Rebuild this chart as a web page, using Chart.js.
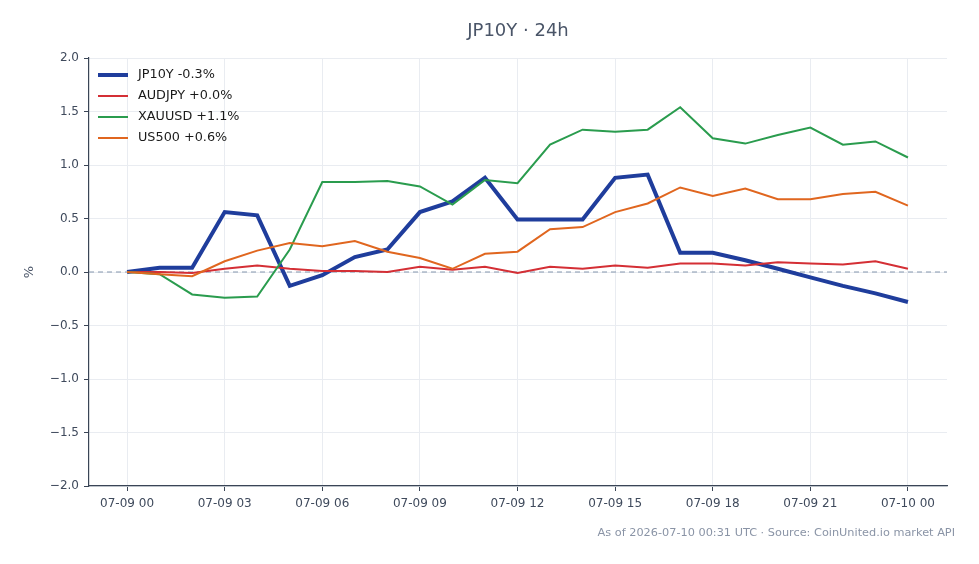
<!DOCTYPE html>
<html>
<head>
<meta charset="utf-8">
<script src="https://cdn.jsdelivr.net/npm/chart.js@4.4.1/dist/chart.umd.min.js"></script>
<style>
  html, body { margin: 0; padding: 0; background: #fff; }
  #wrap { width: 979px; height: 564px; }
</style>
</head>
<body>
<div id="wrap"><canvas id="chart" width="979" height="564"></canvas></div>
<script>
// hourly points, 07-09 00 .. 07-10 00
var timeLabels = ["07-09 00","07-09 01","07-09 02","07-09 03","07-09 04","07-09 05","07-09 06","07-09 07",
  "07-09 08","07-09 09","07-09 10","07-09 11","07-09 12","07-09 13","07-09 14","07-09 15","07-09 16",
  "07-09 17","07-09 18","07-09 19","07-09 20","07-09 21","07-09 22","07-09 23","07-10 00"];

var jp10y  = [0, 0.04, 0.04, 0.56, 0.53, -0.13, -0.03, 0.14, 0.21, 0.56, 0.66, 0.88, 0.49, 0.49, 0.49, 0.88, 0.91, 0.18, 0.18, 0.11, 0.03, -0.05, -0.13, -0.20, -0.28];
var audjpy = [0, 0.00, -0.01, 0.03, 0.06, 0.03, 0.01, 0.01, 0.00, 0.05, 0.02, 0.05, -0.01, 0.05, 0.03, 0.06, 0.04, 0.08, 0.08, 0.06, 0.09, 0.08, 0.07, 0.10, 0.03];
var xauusd = [0, -0.02, -0.21, -0.24, -0.23, 0.21, 0.84, 0.84, 0.85, 0.80, 0.63, 0.86, 0.83, 1.19, 1.33, 1.31, 1.33, 1.54, 1.25, 1.20, 1.28, 1.35, 1.19, 1.22, 1.07];
var us500  = [0, -0.02, -0.04, 0.10, 0.20, 0.27, 0.24, 0.29, 0.19, 0.13, 0.03, 0.17, 0.19, 0.40, 0.42, 0.56, 0.64, 0.79, 0.71, 0.78, 0.68, 0.68, 0.73, 0.75, 0.62];

var seriesNames = ["JP10Y", "AUDJPY", "XAUUSD", "US500"];
var yTicks = [-2.0, -1.5, -1.0, -0.5, 0.0, 0.5, 1.0, 1.5, 2.0];

var FONT = "'DejaVu Sans', sans-serif";

function pts(arr) {
  return arr.map(function(v, i) { return { x: i, y: v }; });
}

function legendText(name, arr) {
  var last = arr[arr.length - 1];
  var s = (last >= 0 ? "+" : "-") + Math.abs(last).toFixed(1) + "%";
  return name + " " + s;
}

// legend drawn inside the plot, title + footer, dashed zero line
var decor = {
  id: 'decor',
  beforeDatasetsDraw: function(chart) {
    var ctx = chart.ctx, a = chart.chartArea, y0 = chart.scales.y.getPixelForValue(0);
    ctx.save();
    ctx.strokeStyle = '#8596ad';
    ctx.lineWidth = 1;
    ctx.setLineDash([5, 4]);
    ctx.beginPath();
    ctx.moveTo(a.left, y0);
    ctx.lineTo(a.right, y0);
    ctx.stroke();
    ctx.restore();
  },
  afterDraw: function(chart) {
    var ctx = chart.ctx, a = chart.chartArea;
    ctx.save();
    // title
    ctx.fillStyle = '#4a5568';
    ctx.font = '18px ' + FONT;
    ctx.textAlign = 'center';
    ctx.textBaseline = 'middle';
    ctx.fillText('JP10Y · 24h', (a.left + a.right) / 2, 31);
    // footer
    ctx.fillStyle = '#8a94a6';
    ctx.font = '11.3px ' + FONT;
    ctx.textAlign = 'right';
    ctx.fillText('As of 2026-07-10 00:31 UTC · Source: CoinUnited.io market API', 955, 533);
    // legend
    ctx.font = '12.8px ' + FONT;
    ctx.textAlign = 'left';
    chart.data.datasets.forEach(function(ds, i) {
      var yy = a.top + 17 + i * 21;
      ctx.strokeStyle = ds.borderColor;
      ctx.lineWidth = ds.borderWidth;
      ctx.setLineDash([]);
      ctx.beginPath();
      ctx.moveTo(a.left + 9, yy);
      ctx.lineTo(a.left + 39, yy);
      ctx.stroke();
      ctx.fillStyle = '#1a1a1a';
      ctx.fillText(ds.label, a.left + 49, yy);
    });
    ctx.restore();
  }
};

var colors = ['#1f3d9c', '#d42f35', '#2a9c4e', '#e0661f'];
var widths = [4, 2, 2, 2];
var allSeries = [jp10y, audjpy, xauusd, us500];

var datasets = allSeries.map(function(arr, i) {
  return {
    label: legendText(seriesNames[i], arr),
    data: pts(arr),
    borderColor: colors[i],
    backgroundColor: colors[i],
    borderWidth: widths[i],
    pointRadius: 0,
    tension: 0,
    fill: false,
    order: 4 - i
  };
});

var chart = new Chart(document.getElementById('chart'), {
  type: 'line',
  data: { datasets: datasets },
  options: {
    responsive: false,
    animation: false,
    layout: { padding: { left: 0, right: 32, top: 58, bottom: 38 } },
    plugins: {
      legend: { display: false },
      title: { display: false },
      tooltip: { enabled: false }
    },
    scales: {
      x: {
        type: 'linear',
        min: -1.17,
        max: 25.2,
        afterFit: function(s) { s.height = 40; },
        ticks: {
          stepSize: 3,
          includeBounds: false,
          autoSkip: false,
          maxRotation: 0,
          padding: 6,
          color: '#3f4a5c',
          font: { family: FONT, size: 12 },
          callback: function(v) { return timeLabels[v] !== undefined && v % 3 === 0 ? timeLabels[v] : ''; }
        },
        grid: { color: '#e9ecf1', tickColor: '#3a4556', tickLength: 5 },
        border: { color: '#3a4556', width: 1.2 }
      },
      y: {
        min: yTicks[0],
        max: yTicks[yTicks.length - 1],
        afterFit: function(s) { s.width = 89; },
        afterBuildTicks: function(s) { s.ticks = yTicks.map(function(v) { return { value: v }; }); },
        ticks: {
          padding: 5,
          color: '#3f4a5c',
          font: { family: FONT, size: 12 },
          callback: function(v) { return (v < 0 ? '\u2212' + Math.abs(v).toFixed(1) : v.toFixed(1)); }
        },
        title: { display: true, text: '%', color: '#4a5568', font: { family: FONT, size: 13 }, padding: { top: 22, bottom: 0 } },
        grid: { color: '#e9ecf1', tickColor: '#3a4556', tickLength: 5 },
        border: { color: '#3a4556', width: 1.2 }
      }
    }
  },
  plugins: [decor]
});
</script>
</body>
</html>
